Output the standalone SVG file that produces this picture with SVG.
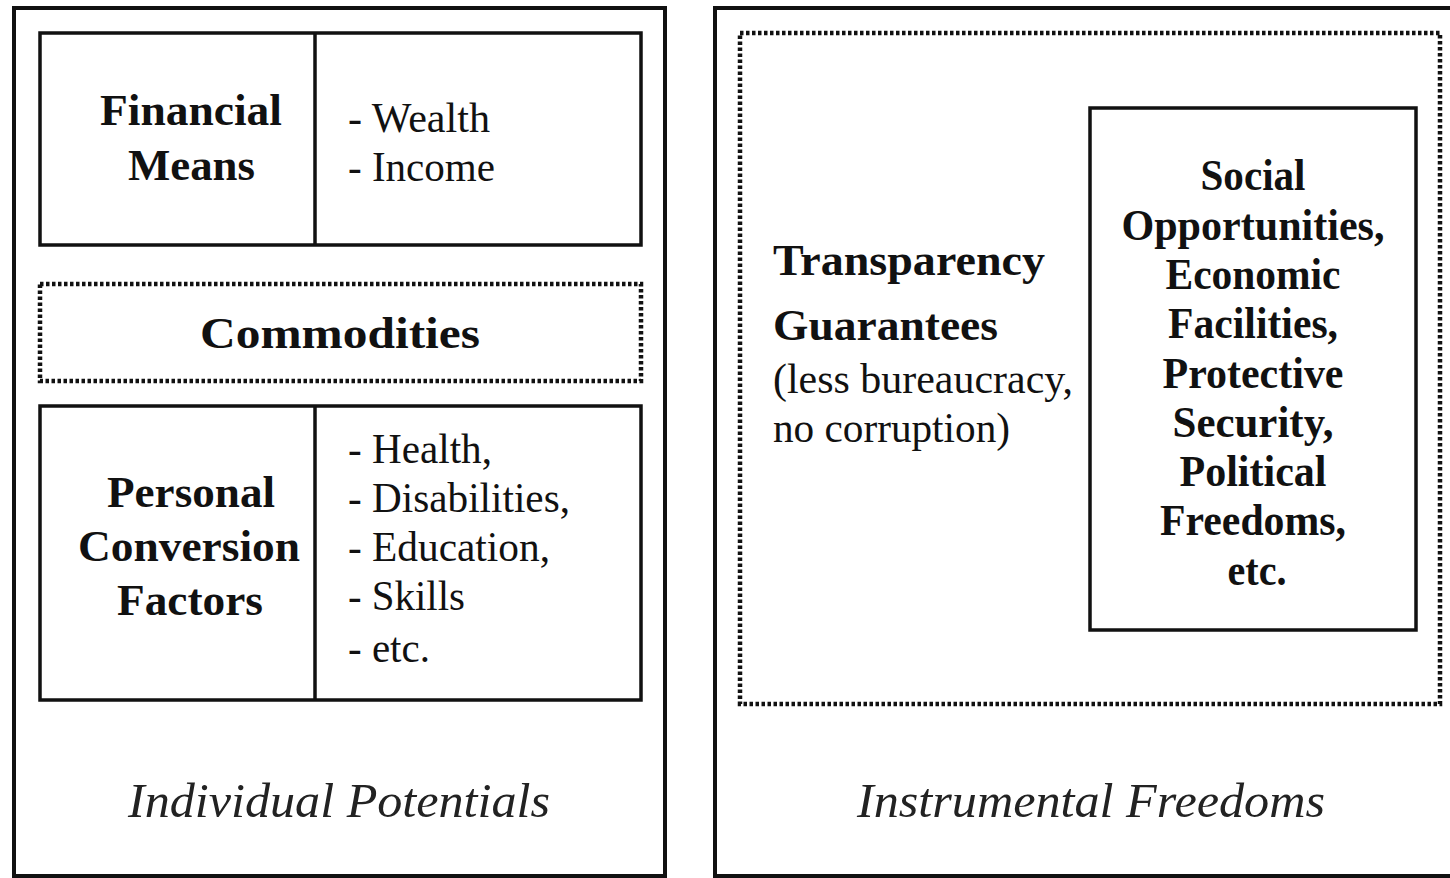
<svg xmlns="http://www.w3.org/2000/svg" width="1450" height="878" viewBox="0 0 1450 878">
<style>
.frame{fill:none;stroke:#111;stroke-width:4}
.box{fill:none;stroke:#111;stroke-width:3.5}
.dot{fill:none;stroke:#111;stroke-width:4.5;stroke-dasharray:3.5 2.5}
.b{font-family:"Liberation Serif","Times New Roman",serif;font-weight:bold;font-size:44px;fill:#111}
.r{font-family:"Liberation Serif","Times New Roman",serif;font-size:42px;fill:#111}
.it{font-family:"Liberation Serif","Times New Roman",serif;font-style:italic;font-size:48px;fill:#222}
</style>
<rect width="1450" height="878" fill="#fff"/>
<g id="individual-potentials">
<rect class="frame" x="14" y="8" width="651" height="868"/>
<text class="it" x="128" y="817" textLength="422" lengthAdjust="spacingAndGlyphs">Individual Potentials</text>
</g>
<g id="financial-means">
<rect class="box" x="40" y="33" width="601" height="212"/>
<line class="box" x1="315" y1="33" x2="315" y2="245"/>
<text class="b" x="100" y="125" textLength="182" lengthAdjust="spacingAndGlyphs">Financial</text>
<text class="b" x="128" y="180" textLength="127" lengthAdjust="spacingAndGlyphs">Means</text>
<text class="r" x="348" y="132" textLength="142" lengthAdjust="spacingAndGlyphs">- Wealth</text>
<text class="r" x="348" y="181" textLength="147" lengthAdjust="spacingAndGlyphs">- Income</text>
</g>
<g id="commodities">
<rect class="dot" x="40" y="284" width="601" height="97"/>
<text class="b" x="200" y="348" font-size="48" textLength="280" lengthAdjust="spacingAndGlyphs">Commodities</text>
</g>
<g id="personal-conversion-factors">
<rect class="box" x="40" y="406" width="601" height="294"/>
<line class="box" x1="315" y1="406" x2="315" y2="700"/>
<text class="b" x="107" y="507" textLength="168" lengthAdjust="spacingAndGlyphs">Personal</text>
<text class="b" x="78" y="561" textLength="222" lengthAdjust="spacingAndGlyphs">Conversion</text>
<text class="b" x="117" y="615" textLength="146" lengthAdjust="spacingAndGlyphs">Factors</text>
<text class="r" x="348" y="463" textLength="144" lengthAdjust="spacingAndGlyphs">- Health,</text>
<text class="r" x="348" y="512" textLength="222" lengthAdjust="spacingAndGlyphs">- Disabilities,</text>
<text class="r" x="348" y="561" textLength="202" lengthAdjust="spacingAndGlyphs">- Education,</text>
<text class="r" x="348" y="610" textLength="117" lengthAdjust="spacingAndGlyphs">- Skills</text>
<text class="r" x="348" y="662" textLength="82" lengthAdjust="spacingAndGlyphs">- etc.</text>
</g>
<g id="instrumental-freedoms">
<rect class="frame" x="715" y="8" width="740" height="868"/>
<text class="it" x="857" y="817" textLength="468" lengthAdjust="spacingAndGlyphs">Instrumental Freedoms</text>
</g>
<g id="transparency-guarantees">
<rect class="dot" x="740" y="33" width="700" height="671"/>
<text class="b" x="773" y="275" textLength="272" lengthAdjust="spacingAndGlyphs">Transparency</text>
<text class="b" x="773" y="340" textLength="225" lengthAdjust="spacingAndGlyphs">Guarantees</text>
<text class="r" x="773" y="393" textLength="300" lengthAdjust="spacingAndGlyphs">(less bureaucracy,</text>
<text class="r" x="773" y="442" textLength="237" lengthAdjust="spacingAndGlyphs">no corruption)</text>
</g>
<g id="social-opportunities">
<rect class="box" x="1090" y="108" width="326" height="522"/>
<g class="b" font-size="42" text-anchor="middle">
<text x="1253" y="190" textLength="105" lengthAdjust="spacingAndGlyphs">Social</text>
<text x="1253" y="240" textLength="263" lengthAdjust="spacingAndGlyphs">Opportunities,</text>
<text x="1253" y="289" textLength="175" lengthAdjust="spacingAndGlyphs">Economic</text>
<text x="1253" y="338" textLength="170" lengthAdjust="spacingAndGlyphs">Facilities,</text>
<text x="1253" y="388" textLength="181" lengthAdjust="spacingAndGlyphs">Protective</text>
<text x="1253" y="437" textLength="161" lengthAdjust="spacingAndGlyphs">Security,</text>
<text x="1253" y="486" textLength="147" lengthAdjust="spacingAndGlyphs">Political</text>
<text x="1253" y="535" textLength="186" lengthAdjust="spacingAndGlyphs">Freedoms,</text>
<text x="1257" y="585" textLength="59" lengthAdjust="spacingAndGlyphs">etc.</text>
</g>
</g>
<g id="connectors"></g>
</svg>
